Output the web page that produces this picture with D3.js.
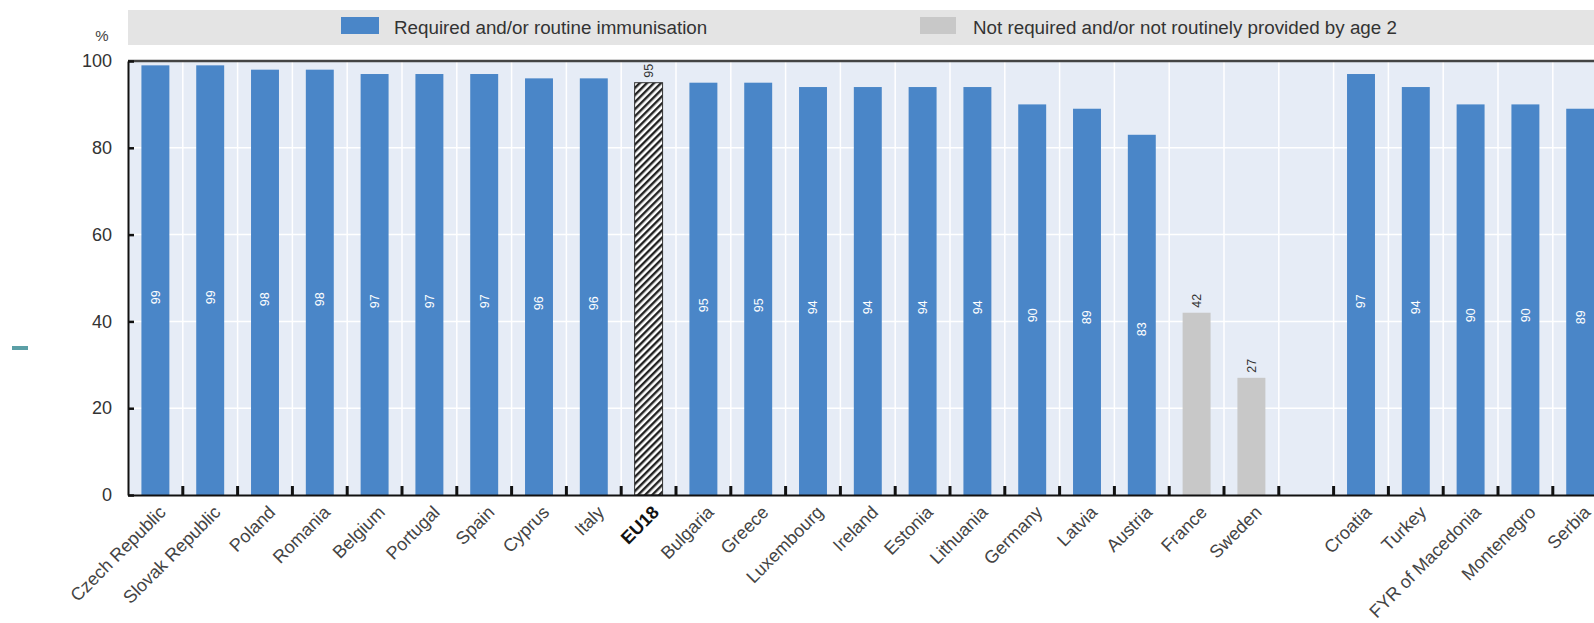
<!DOCTYPE html>
<html>
<head>
<meta charset="utf-8">
<script src="https://cdn.jsdelivr.net/npm/d3@7"></script>
<style>
  html, body { margin: 0; padding: 0; background: #fff; }
  svg { display: block; font-family: "Liberation Sans", Arial, sans-serif; }
</style>
</head>
<body>
<div id="chart"></div>
<script>
// countries, in the order of the figure; ' ' is the empty slot before the candidate countries
const categories = [
  'Czech Republic', 'Slovak Republic', 'Poland', 'Romania', 'Belgium', 'Portugal', 'Spain',
  'Cyprus', 'Italy', 'EU18', 'Bulgaria', 'Greece', 'Luxembourg', 'Ireland', 'Estonia',
  'Lithuania', 'Germany', 'Latvia', 'Austria', 'France', 'Sweden', ' ',
  'Croatia', 'Turkey', 'FYR of Macedonia', 'Montenegro', 'Serbia'
]
const values = [
  99, 99, 98, 98, 97, 97, 97,
  96, 96, 95, 95, 95, 94, 94, 94,
  94, 90, 89, 83, 42, 27, null,
  97, 94, 90, 90, 89
]
// req = required / routine, avg = EU average, not = not required by age 2
const groups = [
  'req', 'req', 'req', 'req', 'req', 'req', 'req',
  'req', 'req', 'avg', 'req', 'req', 'req', 'req', 'req',
  'req', 'req', 'req', 'req', 'not', 'not', 'none',
  'req', 'req', 'req', 'req', 'req'
]
const yTicks = [0, 20, 40, 60, 80, 100]
const legendLabels = ['Required and/or routine immunisation', 'Not required and/or not routinely provided by age 2']

const width = 1594
const height = 623
const plotLeft = 128
const plotTop = 61
const plotBottom = 495
const step = 54.8
const blue = '#4a86c8'
const grey = '#c8c8c8'

const data = categories.map((c, i) => ({ name: c, value: values[i], group: groups[i] }))

const svg = d3.select('#chart')
  .append('svg')
  .attr('width', width)
  .attr('height', height)

const x = d3.scaleBand()
  .domain(categories)
  .range([plotLeft, plotLeft + categories.length * step])
  .paddingInner(0.49)
  .paddingOuter(0.245)

const y = d3.scaleLinear()
  .domain([0, 100])
  .range([plotBottom, plotTop])

// hatch for the EU18 bar
svg.append('defs')
  .append('pattern')
  .attr('id', 'hatch')
  .attr('patternUnits', 'userSpaceOnUse')
  .attr('width', 5)
  .attr('height', 5)
  .attr('patternTransform', 'rotate(45)')
  .call(p => p.append('rect').attr('width', 5).attr('height', 5).attr('fill', '#fff'))
  .call(p => p.append('line')
    .attr('x1', 1.2).attr('x2', 1.2).attr('y1', 0).attr('y2', 5)
    .attr('stroke', '#222').attr('stroke-width', 2.4))

// legend band
svg.append('rect')
  .attr('x', plotLeft)
  .attr('y', 10)
  .attr('width', width - plotLeft)
  .attr('height', 35)
  .attr('fill', '#e4e4e4')

const legend = svg.append('g')
  .selectAll('g')
  .data(legendLabels)
  .enter()
  .append('g')
  .attr('transform', (d, i) => `translate(${i === 0 ? 341 : 920},0)`)
legend.append('rect')
  .attr('y', 17)
  .attr('width', (d, i) => i === 0 ? 38 : 36)
  .attr('height', 17)
  .attr('fill', (d, i) => i === 0 ? blue : grey)
legend.append('text')
  .attr('x', 53)
  .attr('y', 27)
  .attr('dy', '0.35em')
  .attr('fill', '#333')
  .style('font-size', '18.8px')
  .text(d => d)

// plot background + grid
svg.append('rect')
  .attr('x', plotLeft)
  .attr('y', plotTop)
  .attr('width', width - plotLeft)
  .attr('height', plotBottom - plotTop)
  .attr('fill', '#e6ecf6')

svg.append('g')
  .selectAll('line')
  .data(yTicks.filter(t => t > 0 && t < 100))
  .enter()
  .append('line')
  .attr('x1', plotLeft)
  .attr('x2', width)
  .attr('y1', d => y(d))
  .attr('y2', d => y(d))
  .attr('stroke', '#fff')
  .attr('stroke-width', 1.5)

const bounds = categories.slice(1).map(c => x(c) - x.step() * x.paddingInner() / 2)

svg.append('g')
  .selectAll('line')
  .data(bounds)
  .enter()
  .append('line')
  .attr('x1', d => d)
  .attr('x2', d => d)
  .attr('y1', plotTop)
  .attr('y2', plotBottom)
  .attr('stroke', '#fff')
  .attr('stroke-width', 1.5)

// bars
svg.append('g')
  .selectAll('rect')
  .data(data.filter(d => d.value !== null))
  .enter()
  .append('rect')
  .attr('x', d => x(d.name))
  .attr('y', d => y(d.value))
  .attr('width', x.bandwidth())
  .attr('height', d => y(0) - y(d.value))
  .attr('fill', d => d.group === 'req' ? blue : d.group === 'not' ? grey : 'url(#hatch)')
  .attr('stroke', d => d.group === 'avg' ? '#333' : 'none')
  .attr('stroke-width', 1)

// value labels: inside the blue bars, above the others
svg.append('g')
  .selectAll('text')
  .data(data.filter(d => d.value !== null))
  .enter()
  .append('text')
  .attr('transform', d => {
    const cx = x(d.name) + x.bandwidth() / 2
    const cy = d.group === 'req' ? y(d.value * 0.46) : y(d.value) - 5
    return `translate(${cx},${cy}) rotate(-90)`
  })
  .attr('dy', '0.35em')
  .attr('text-anchor', d => d.group === 'req' ? 'middle' : 'start')
  .attr('fill', d => d.group === 'req' ? '#fff' : '#333')
  .style('font-size', '12.5px')
  .text(d => d.value)

// top frame line
svg.append('line')
  .attr('x1', plotLeft)
  .attr('x2', width)
  .attr('y1', plotTop)
  .attr('y2', plotTop)
  .attr('stroke', '#444')
  .attr('stroke-width', 2.5)

// y axis, ticks pointing inward
svg.append('g')
  .attr('transform', `translate(${plotLeft},0)`)
  .call(d3.axisLeft(y).tickValues(yTicks).tickSize(-6).tickSizeOuter(0).tickPadding(16))
  .call(g => g.select('.domain').attr('stroke', '#111').attr('stroke-width', 2))
  .call(g => g.selectAll('.tick line').attr('stroke', '#111').attr('stroke-width', 2.5))
  .call(g => g.selectAll('.tick text')
    .attr('fill', '#333')
    .style('font-size', '18px')
    .style('font-family', '"Liberation Sans", Arial, sans-serif'))

svg.append('text')
  .attr('x', 102)
  .attr('y', 41)
  .attr('text-anchor', 'middle')
  .attr('fill', '#444')
  .style('font-size', '15px')
  .text('%')

// x axis: baseline + labels
svg.append('g')
  .attr('transform', `translate(0,${plotBottom})`)
  .call(d3.axisBottom(x).tickSize(0).tickSizeOuter(0))
  .call(g => g.select('.domain').attr('stroke', '#111').attr('stroke-width', 2))
  .call(g => g.selectAll('.tick text')
    .attr('x', 0)
    .attr('y', 0)
    .attr('dy', '0.35em')
    .attr('transform', 'translate(7,14) rotate(-45)')
    .attr('text-anchor', 'end')
    .attr('fill', d => d === 'EU18' ? '#111' : '#444')
    .style('font-weight', d => d === 'EU18' ? 'bold' : 'normal')
    .style('font-size', '18px')
    .style('font-family', '"Liberation Sans", Arial, sans-serif'))

// small ticks between the bars
svg.append('g')
  .selectAll('line')
  .data(bounds)
  .enter()
  .append('line')
  .attr('x1', d => d)
  .attr('x2', d => d)
  .attr('y1', plotBottom)
  .attr('y2', plotBottom - 9)
  .attr('stroke', '#111')
  .attr('stroke-width', 3)

// little teal mark at the left edge
svg.append('rect')
  .attr('x', 12)
  .attr('y', 346)
  .attr('width', 16)
  .attr('height', 4)
  .attr('fill', '#5b9fa6')
</script>
</body>
</html>
